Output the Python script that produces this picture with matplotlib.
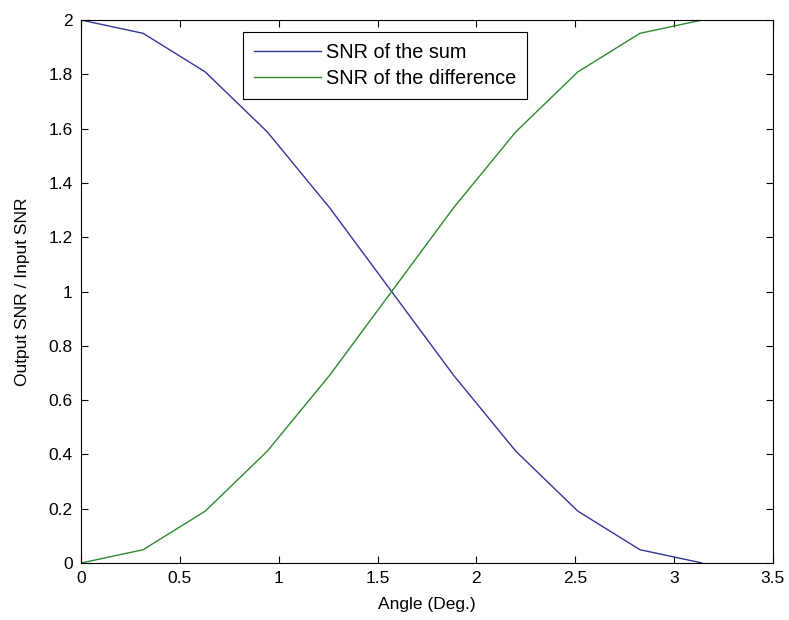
import matplotlib
matplotlib.use("Agg")
import matplotlib.pyplot as plt

plt.rcParams['font.family'] = ['Liberation Sans', 'DejaVu Sans']

angle = [0.0, 0.314, 0.628, 0.942, 1.257, 1.571, 1.885, 2.199, 2.513, 2.827, 3.142]
snr_sum = [2.0, 1.951, 1.809, 1.588, 1.309, 1.0, 0.691, 0.412, 0.191, 0.049, 0.0]
snr_diff = [0.0, 0.049, 0.191, 0.412, 0.691, 1.0, 1.309, 1.588, 1.809, 1.951, 2.0]
xticks = [0, 0.5, 1, 1.5, 2, 2.5, 3, 3.5]
yticks = [0, 0.2, 0.4, 0.6, 0.8, 1, 1.2, 1.4, 1.6, 1.8, 2]

fs = 12.5
fig = plt.figure(figsize=(7.89, 6.2), dpi=100)
ax = fig.add_axes([0.1027, 0.0919, 0.877, 0.8758])
ax.plot(angle, snr_sum, color='#34349c', lw=1.0, label='SNR of the sum')
ax.plot(angle, snr_diff, color='#2e8a2e', lw=1.0, label='SNR of the difference')
ax.set_xlim(0, 3.5)
ax.set_ylim(0, 2)
ax.set_xticks(xticks)
ax.set_xticklabels([f"{t:g}" for t in xticks])
ax.set_yticks(yticks)
ax.set_yticklabels([f"{t:g}" for t in yticks])
ax.tick_params(direction='in', top=True, right=True, labelsize=fs, length=5, width=0.8)
ax.tick_params(axis='x', pad=6)
ax.tick_params(axis='y', pad=6)
for s in ax.spines.values():
    s.set_linewidth(0.8)
ax.set_xlabel('Angle (Deg.)', fontsize=fs, labelpad=8)
ax.set_ylabel('Output SNR / Input SNR', fontsize=fs, labelpad=13)
leg = ax.legend(loc='upper left', bbox_to_anchor=(0.234, 0.978), fontsize=14.3,
                fancybox=False, framealpha=1, edgecolor='black', handlelength=3.37,
                borderpad=0.55, labelspacing=0.37, handletextpad=0.25, borderaxespad=0)
leg.get_frame().set_linewidth(0.8)
fig.savefig('out.png', dpi=100)
